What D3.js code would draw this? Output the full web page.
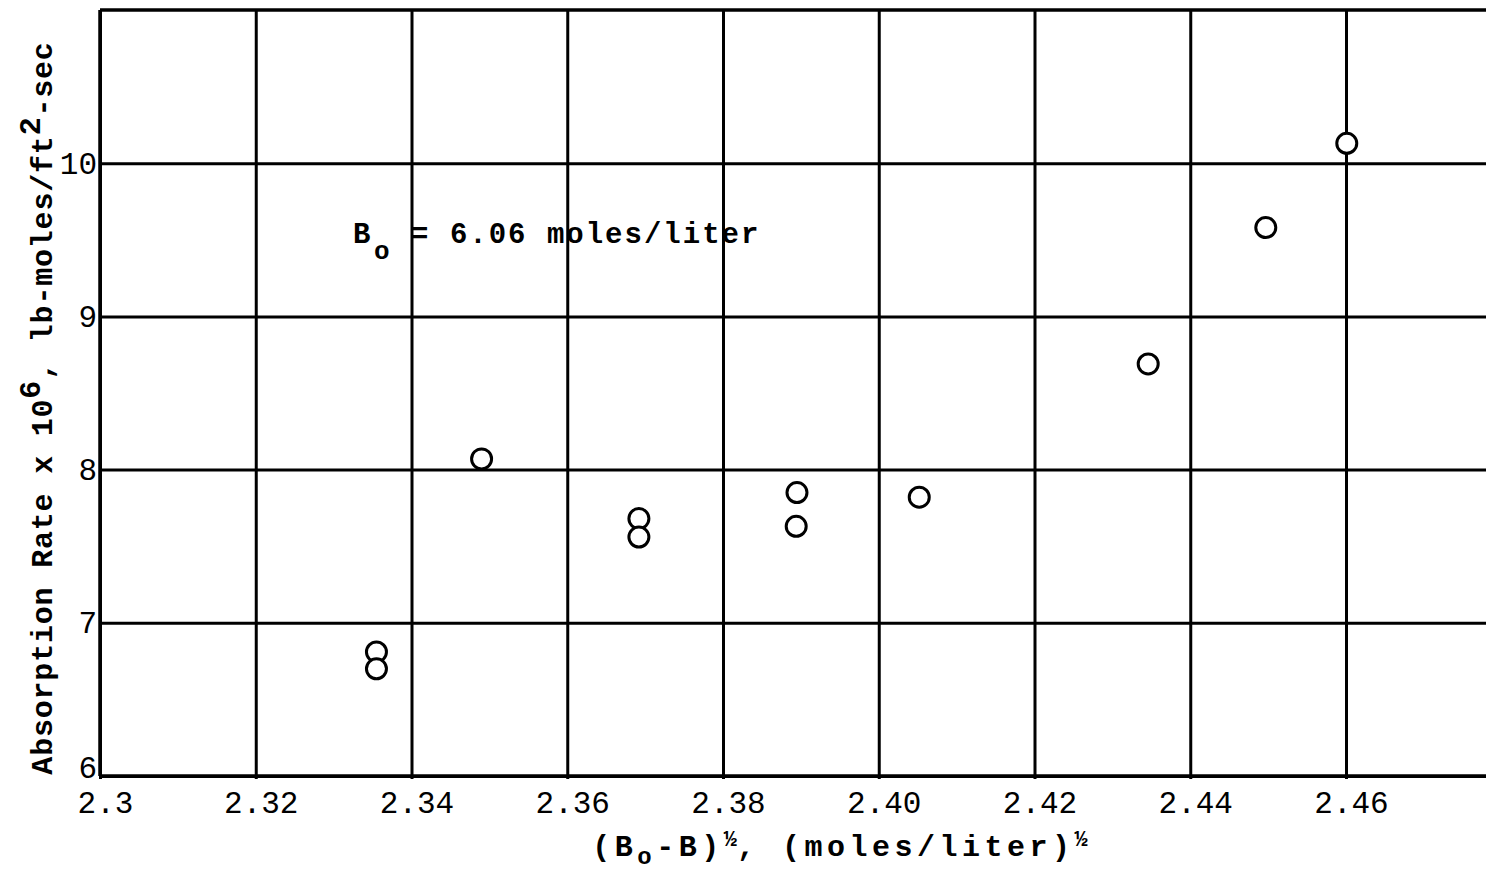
<!DOCTYPE html>
<html>
<head>
<meta charset="utf-8">
<script src="https://cdn.jsdelivr.net/npm/d3@7"></script>
<style>
  html, body { margin: 0; padding: 0; background: #fff; }
  svg { display: block; }
</style>
</head>
<body>
<div id="chart"></div>
<script>
// values
const rootB = [2.3355, 2.3355, 2.3490, 2.3692, 2.3692, 2.3895, 2.3894, 2.4052, 2.4346, 2.4497, 2.4601];
const rate  = [6.81, 6.70, 8.07, 7.68, 7.56, 7.85, 7.63, 7.82, 8.69, 9.58, 10.13];

const xTicks = [2.30, 2.32, 2.34, 2.36, 2.38, 2.40, 2.42, 2.44, 2.46];
const xTickLabels = ["2.3", "2.32", "2.34", "2.36", "2.38", "2.40", "2.42", "2.44", "2.46"];
const yTicks = [6, 7, 8, 9, 10];
const yTickLabels = ["6", "7", "8", "9", "10"];

const W = 1486, H = 874;
const margin = { top: 10, left: 100 };
const w = W - margin.left, h = 766;
const mono = "'Liberation Mono', 'Courier New', monospace";

const svg = d3.select('#chart')
    .append('svg')
    .attr('width', W)
    .attr('height', H);

const g = svg.append('g')
    .attr('transform', `translate(${margin.left},${margin.top})`);

const x = d3.scaleLinear().domain([2.30, 2.46]).range([0, 1246]);
const y = d3.scaleLinear().domain([6, 11]).range([h, 0]);

// vertical grid + tick labels
const xAxis = g.append('g')
    .attr('transform', `translate(0,${h})`)
    .call(d3.axisBottom(x)
        .tickValues(xTicks)
        .tickSize(-h)
        .tickPadding(0)
        .tickFormat((d, i) => xTickLabels[i]));
xAxis.select('.domain').remove();
xAxis.selectAll('line').attr('stroke', '#000').attr('stroke-width', 3).attr('y1', 3);
xAxis.selectAll('text')
    .attr('y', 37)
    .attr('dy', null)
    .attr('dx', 5)
    .attr('fill', '#000')
    .style('font-family', mono)
    .style('font-size', '31px');

// horizontal grid + tick labels
const yAxis = g.append('g')
    .call(d3.axisLeft(y)
        .tickValues(yTicks)
        .tickSize(-w)
        .tickPadding(3)
        .tickFormat((d, i) => yTickLabels[i]));
yAxis.select('.domain').remove();
yAxis.selectAll('line').attr('stroke', '#000').attr('stroke-width', 3);
yAxis.selectAll('text')
    .attr('dy', 10)
    .attr('fill', '#000')
    .style('font-family', mono)
    .style('font-size', '31px');
// the bottom "6" sits tight against the x labels, lift it a little
yAxis.selectAll('.tick').filter(d => d === 6).select('text').attr('dy', 1);

// frame: left, top, bottom
g.append('line').attr('x1', 0).attr('x2', 0).attr('y1', 0).attr('y2', h)
    .attr('stroke', '#000').attr('stroke-width', 3.5);
g.append('line').attr('x1', 0).attr('x2', w).attr('y1', y(11)).attr('y2', y(11))
    .attr('stroke', '#000').attr('stroke-width', 3.5);
g.append('line').attr('x1', 0).attr('x2', w).attr('y1', h).attr('y2', h)
    .attr('stroke', '#000').attr('stroke-width', 3.5);

// points
g.append('g')
    .selectAll('circle')
    .data(rootB.map((v, i) => ({ x: v, y: rate[i] })))
    .enter()
    .append('circle')
    .attr('cx', d => x(d.x))
    .attr('cy', d => y(d.y))
    .attr('r', 10)
    .attr('fill', '#fff')
    .attr('stroke', '#000')
    .attr('stroke-width', 3);

// annotation B_o = 6.06 moles/liter
const ax = x(2.3325), ay = y(9.48);
const note = g.append('text')
    .attr('y', ay)
    .style('font-family', mono)
    .style('font-size', '29px')
    .style('font-weight', 'bold')
    .style('letter-spacing', '2px')
    .attr('fill', '#000');
note.append('tspan').attr('x', ax).text('B');
note.append('tspan').attr('x', ax + 21).attr('dy', 16).style('font-size', '26px').text('o');
note.append('tspan').attr('x', ax + 58).attr('dy', -16).text('= 6.06 moles/liter');

// x axis title
const xt = svg.append('text')
    .attr('x', 840)
    .attr('y', 856)
    .attr('text-anchor', 'middle')
    .style('font-family', mono)
    .style('font-size', '30px')
    .style('font-weight', 'bold')
    .style('letter-spacing', '4.5px')
    .attr('fill', '#000');
xt.append('tspan').text('(B');
xt.append('tspan').attr('dy', 8).style('font-size', '24px').text('o');
xt.append('tspan').attr('dy', -8).text('-B)');
xt.append('tspan').attr('dy', -10).style('font-size', '22px').style('letter-spacing', '0px').text('\u00BD');
xt.append('tspan').attr('dy', 10).text(', (moles/liter)');
xt.append('tspan').attr('dy', -10).style('font-size', '22px').style('letter-spacing', '0px').text('\u00BD');

// y axis title
const yt = svg.append('text')
    .attr('transform', 'translate(52,408) rotate(-90)')
    .attr('text-anchor', 'middle')
    .style('font-family', mono)
    .style('font-size', '30px')
    .style('font-weight', 'bold')
    .style('letter-spacing', '0.8px')
    .attr('fill', '#000');
yt.append('tspan').text('Absorption Rate x 10');
yt.append('tspan').attr('dy', -12).text('6');
yt.append('tspan').attr('dy', 12).text(', lb-moles/ft');
yt.append('tspan').attr('dy', -12).text('2');
yt.append('tspan').attr('dy', 12).text('-sec');
</script>
</body>
</html>
